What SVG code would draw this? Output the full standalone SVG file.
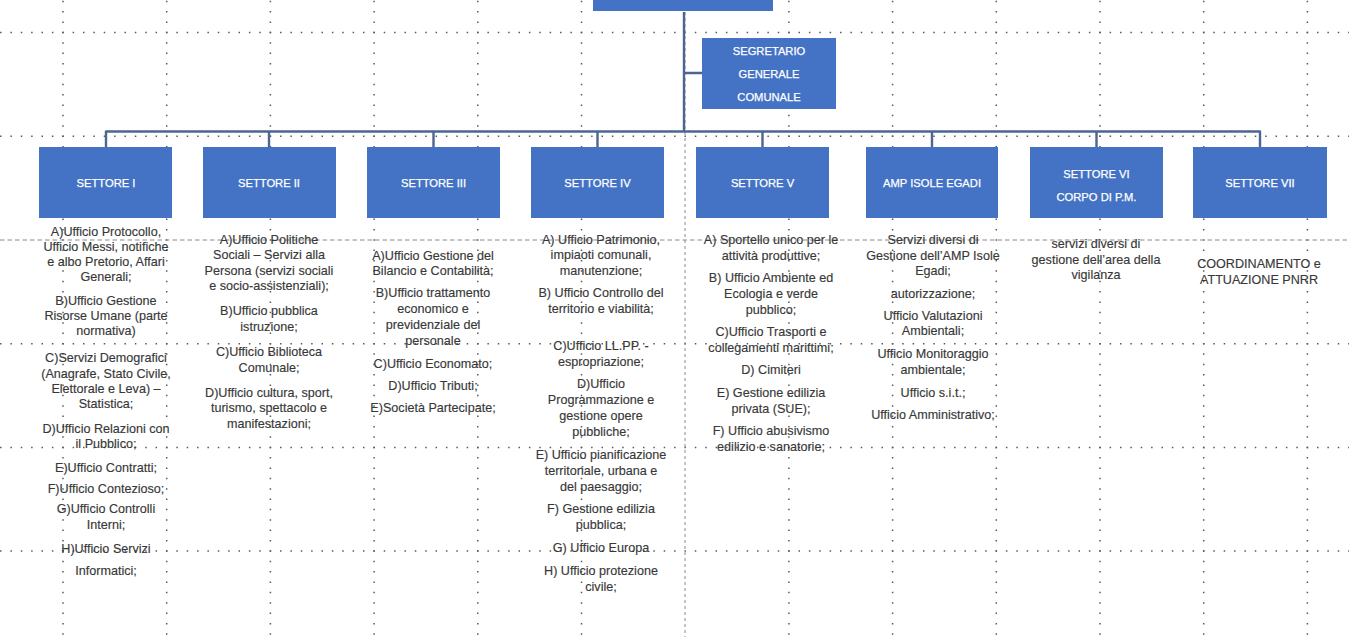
<svg xmlns="http://www.w3.org/2000/svg" width="1349" height="637" viewBox="0 0 1349 637">
<style>
.bg{fill:#ffffff}
.gd{fill:none;stroke:#5a5a5a;stroke-width:1.5;stroke-dasharray:1.5 8.87}
.gc{fill:none;stroke:#8a8a8a;stroke-width:1}
.box{fill:#4472C4}
.lbl{font-family:"Liberation Sans",Arial,sans-serif;font-size:11.2px;fill:#ffffff;stroke:#ffffff;stroke-width:0.25;text-anchor:middle}
.t{font-family:"Liberation Sans",Arial,sans-serif;font-size:12.6px;fill:#383838;stroke:#383838;stroke-width:0.15;text-anchor:middle}
.cn{fill:none;stroke:#4d6590;stroke-width:2.4}
</style>
<rect class="bg" x="0" y="0" width="1349" height="637"/>
<g id="grid">
<path class="gd" d="M0.03 32.6H1349M0.03 136.3H1349M0.03 343.7H1349M0.03 447.4H1349M0.03 551.1H1349"/>
<path class="gd" d="M63 0.74V637M166.7 0.74V637M270.4 0.74V637M374.1 0.74V637M477.8 0.74V637M581.5 0.74V637M788.9 0.74V637M892.6 0.74V637M996.3 0.74V637M1100 0.74V637M1203.7 0.74V637M1307.4 0.74V637"/>
<path class="gc" d="M0 240H1349" stroke-dasharray="4.5 3"/>
<path class="gc" d="M685 0V637" stroke-dasharray="3 3"/>
</g>
<g id="connectors">
<path class="cn" d="M684 12V131.5M684 73H702M106 131.5H1260M106 130.5V147M269 131.5V147M433.5 131.5V147M597.5 131.5V147M762.5 131.5V147M932 131.5V147M1096.5 131.5V147M1260 130.5V147"/>
</g>
<g id="sindaco"><rect class="box" x="593" y="-10" width="180" height="21"/></g>
<g id="segretario">
<rect class="box" x="702" y="38" width="134" height="71"/>
<text class="lbl" x="769" y="55">SEGRETARIO</text>
<text class="lbl" x="769" y="78">GENERALE</text>
<text class="lbl" x="769" y="101">COMUNALE</text>
</g>
<g id="settore1">
<rect class="box" x="39" y="147" width="133" height="71"/>
<text class="lbl" x="106" y="187">SETTORE I</text>
<text class="t" x="106" y="236">A)Ufficio Protocollo,</text>
<text class="t" x="106" y="251">Ufficio Messi, notifiche</text>
<text class="t" x="106" y="266">e albo Pretorio, Affari</text>
<text class="t" x="106" y="281">Generali;</text>
<text class="t" x="106" y="305">B)Ufficio Gestione</text>
<text class="t" x="106" y="320">Risorse Umane (parte</text>
<text class="t" x="106" y="335">normativa)</text>
<text class="t" x="106" y="362">C)Servizi Demografici</text>
<text class="t" x="106" y="378">(Anagrafe, Stato Civile,</text>
<text class="t" x="106" y="393">Elettorale e Leva) –</text>
<text class="t" x="106" y="408">Statistica;</text>
<text class="t" x="106" y="433">D)Ufficio Relazioni con</text>
<text class="t" x="106" y="448">il Pubblico;</text>
<text class="t" x="106" y="472">E)Ufficio Contratti;</text>
<text class="t" x="106" y="493">F)Ufficio Contezioso;</text>
<text class="t" x="106" y="513">G)Ufficio Controlli</text>
<text class="t" x="106" y="529">Interni;</text>
<text class="t" x="106" y="553">H)Ufficio Servizi</text>
<text class="t" x="106" y="575">Informatici;</text>
</g>
<g id="settore2">
<rect class="box" x="203" y="147" width="133" height="71"/>
<text class="lbl" x="269" y="187">SETTORE II</text>
<text class="t" x="269" y="244">A)Ufficio Politiche</text>
<text class="t" x="269" y="259">Sociali – Servizi alla</text>
<text class="t" x="269" y="275">Persona (servizi sociali</text>
<text class="t" x="269" y="290">e socio-assistenziali);</text>
<text class="t" x="269" y="315">B)Ufficio pubblica</text>
<text class="t" x="269" y="331">istruzione;</text>
<text class="t" x="269" y="356">C)Ufficio Biblioteca</text>
<text class="t" x="269" y="372">Comunale;</text>
<text class="t" x="269" y="397">D)Ufficio cultura, sport,</text>
<text class="t" x="269" y="412">turismo, spettacolo e</text>
<text class="t" x="269" y="428">manifestazioni;</text>
</g>
<g id="settore3">
<rect class="box" x="367" y="147" width="133" height="71"/>
<text class="lbl" x="433.5" y="187">SETTORE III</text>
<text class="t" x="433" y="260">A)Ufficio Gestione del</text>
<text class="t" x="433" y="275">Bilancio e Contabilità;</text>
<text class="t" x="433" y="297">B)Ufficio trattamento</text>
<text class="t" x="433" y="313">economico e</text>
<text class="t" x="433" y="329">previdenziale del</text>
<text class="t" x="433" y="345">personale</text>
<text class="t" x="433" y="368">C)Ufficio Economato;</text>
<text class="t" x="433" y="390">D)Ufficio Tributi;</text>
<text class="t" x="433" y="412">E)Società Partecipate;</text>
</g>
<g id="settore4">
<rect class="box" x="531" y="147" width="133" height="71"/>
<text class="lbl" x="597.5" y="187">SETTORE IV</text>
<text class="t" x="601" y="244">A) Ufficio Patrimonio,</text>
<text class="t" x="601" y="259">impiaoti comunali,</text>
<text class="t" x="601" y="275">manutenzione;</text>
<text class="t" x="601" y="297">B) Ufficio Controllo del</text>
<text class="t" x="601" y="313">territorio e viabilità;</text>
<text class="t" x="601" y="350">C)Ufficio LL.PP. -</text>
<text class="t" x="601" y="366">espropriazione;</text>
<text class="t" x="601" y="388">D)Ufficio</text>
<text class="t" x="601" y="404">Programmazione e</text>
<text class="t" x="601" y="420">gestione opere</text>
<text class="t" x="601" y="436">pubbliche;</text>
<text class="t" x="601" y="459">E) Ufficio pianificazione</text>
<text class="t" x="601" y="475">territoriale, urbana e</text>
<text class="t" x="601" y="491">del paesaggio;</text>
<text class="t" x="601" y="513">F) Gestione edilizia</text>
<text class="t" x="601" y="529">pubblica;</text>
<text class="t" x="601" y="552">G) Ufficio Europa</text>
<text class="t" x="601" y="575">H) Ufficio protezione</text>
<text class="t" x="601" y="591">civile;</text>
</g>
<g id="settore5">
<rect class="box" x="696" y="147" width="133" height="71"/>
<text class="lbl" x="762.5" y="187">SETTORE V</text>
<text class="t" x="771" y="244">A) Sportello unico per le</text>
<text class="t" x="771" y="260">attività produttive;</text>
<text class="t" x="771" y="282">B) Ufficio Ambiente ed</text>
<text class="t" x="771" y="298">Ecologia e verde</text>
<text class="t" x="771" y="314">pubblico;</text>
<text class="t" x="771" y="336">C)Ufficio Trasporti e</text>
<text class="t" x="771" y="352">collegamenti marittimi;</text>
<text class="t" x="771" y="374">D) Cimiteri</text>
<text class="t" x="771" y="397">E) Gestione edilizia</text>
<text class="t" x="771" y="413">privata (SUE);</text>
<text class="t" x="771" y="435">F) Ufficio abusivismo</text>
<text class="t" x="771" y="451">edilizio e sanatorie;</text>
</g>
<g id="amp">
<rect class="box" x="866" y="147" width="132" height="71"/>
<text class="lbl" x="932" y="187">AMP ISOLE EGADI</text>
<text class="t" x="933" y="244">Servizi diversi di</text>
<text class="t" x="933" y="260">Gestione dell’AMP Isole</text>
<text class="t" x="933" y="275">Egadi;</text>
<text class="t" x="933" y="298">autorizzazione;</text>
<text class="t" x="933" y="320">Ufficio Valutazioni</text>
<text class="t" x="933" y="335">Ambientali;</text>
<text class="t" x="933" y="358">Ufficio Monitoraggio</text>
<text class="t" x="933" y="374">ambientale;</text>
<text class="t" x="933" y="397">Ufficio s.i.t.;</text>
<text class="t" x="933" y="419">Ufficio Amministrativo;</text>
</g>
<g id="settore6">
<rect class="box" x="1030" y="147" width="133" height="71"/>
<text class="lbl" x="1096.5" y="178">SETTORE VI</text>
<text class="lbl" x="1096.5" y="201">CORPO DI P.M.</text>
<text class="t" x="1096" y="248">servizi diversi di</text>
<text class="t" x="1096" y="264">gestione dell’area della</text>
<text class="t" x="1096" y="279">vigilanza</text>
</g>
<g id="settore7">
<rect class="box" x="1193" y="147" width="134" height="71"/>
<text class="lbl" x="1260" y="187">SETTORE VII</text>
<text class="t" x="1259" y="268">COORDINAMENTO e</text>
<text class="t" x="1259" y="284">ATTUAZIONE PNRR</text>
</g>
</svg>
